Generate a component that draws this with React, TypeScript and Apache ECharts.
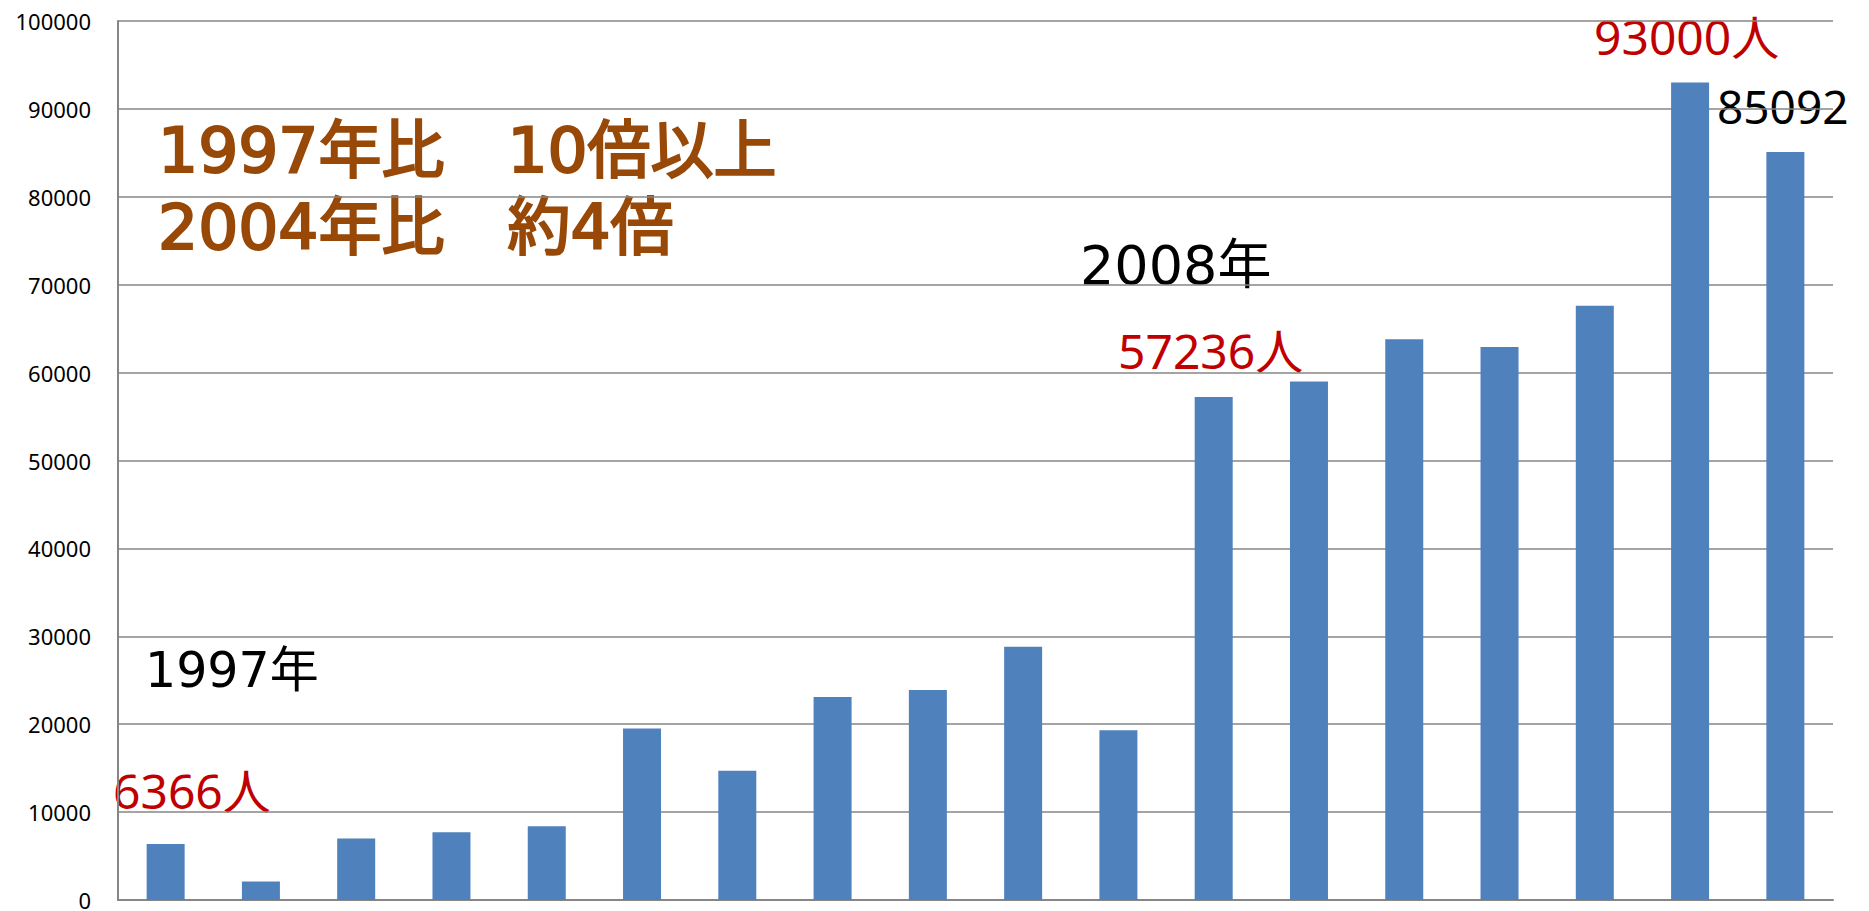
import React, { useEffect, useRef } from "react";
import * as echarts from "echarts";

const years = ["1997", "1998", "1999", "2000", "2001", "2002", "2003", "2004", "2005", "2006", "2007", "2008", "2009", "2010", "2011", "2012", "2013", "2014"];
const visitors = [6366, 2100, 7000, 7700, 8400, 19500, 14700, 23100, 23900, 28800, 19300, 57236, 59000, 63800, 62900, 67600, 93000, 85092];
const yTicks = { min: 0, max: 100000, interval: 10000 };

const summaryLines = ["1997年比\u300010倍以上", "2004年比\u3000約4倍"];
const redNotes = ["6366人", "57236人", "93000人"];
const blackNotes = ["1997年", "2008年", "85092"];

export default function App() {
  const ref = useRef<HTMLDivElement>(null);
  useEffect(() => {
    if (!ref.current) return;
    const chart = echarts.init(ref.current, undefined, { renderer: "svg" });
    const brownFont = "'DejaVu Sans', 'Noto Sans CJK JP', sans-serif";
    const yearFont = "'DejaVu Sans', 'Noto Sans CJK JP', sans-serif";
    const valFont = "'Noto Sans', 'Noto Sans CJK JP', sans-serif";
    const brownStyle = { fill: "#984807", stroke: "#984807", lineWidth: 2.2, font: `63px ${brownFont}` };
    chart.setOption({
      animation: false,
      backgroundColor: "#ffffff",
      grid: { left: 118, right: 36, top: 21, bottom: 8, containLabel: false },
      xAxis: {
        type: "category",
        data: years,
        axisLine: { show: true, lineStyle: { color: "#868686", width: 2 } },
        axisTick: { show: false },
        axisLabel: { show: false },
        splitLine: { show: false },
      },
      yAxis: {
        type: "value",
        min: yTicks.min,
        max: yTicks.max,
        interval: yTicks.interval,
        axisLine: { show: true, lineStyle: { color: "#868686", width: 2 } },
        axisTick: { show: false },
        axisLabel: {
          color: "#000",
          fontSize: 22,
          fontFamily: "Noto Sans",
          margin: 27,
          formatter: (v: number) => String(v),
        },
        splitLine: { show: true, lineStyle: { color: "#868686", width: 1.5 } },
      },
      series: [
        {
          type: "bar",
          data: visitors,
          barWidth: 38,
          itemStyle: { color: "#4F81BD" },
        },
      ],
      graphic: [
        { type: "text", left: 157, top: 118, style: { text: summaryLines[0], ...brownStyle } },
        { type: "text", left: 157, top: 195, style: { text: summaryLines[1], ...brownStyle } },
        { type: "text", left: 145, top: 646, style: { text: blackNotes[0], fill: "#000", font: `49px ${yearFont}` } },
        { type: "text", left: 1080, top: 238, style: { text: blackNotes[1], fill: "#000", font: `54px ${yearFont}` } },
        { type: "text", left: 1717, top: 83, style: { text: blackNotes[2], fill: "#000", font: `46px ${valFont}` } },
        { type: "text", left: 113, top: 766, style: { text: redNotes[0], fill: "#C00000", font: `48px ${valFont}` } },
        { type: "text", left: 1118, top: 326, style: { text: redNotes[1], fill: "#C00000", font: `48px ${valFont}` } },
        { type: "text", left: 1594, top: 12, style: { text: redNotes[2], fill: "#C00000", font: `48px ${valFont}` } },
      ],
    });
    return () => chart.dispose();
  }, []);
  return <div ref={ref} style={{ position: "fixed", left: 0, top: 0, width: 1869, height: 911 }} />;
}
